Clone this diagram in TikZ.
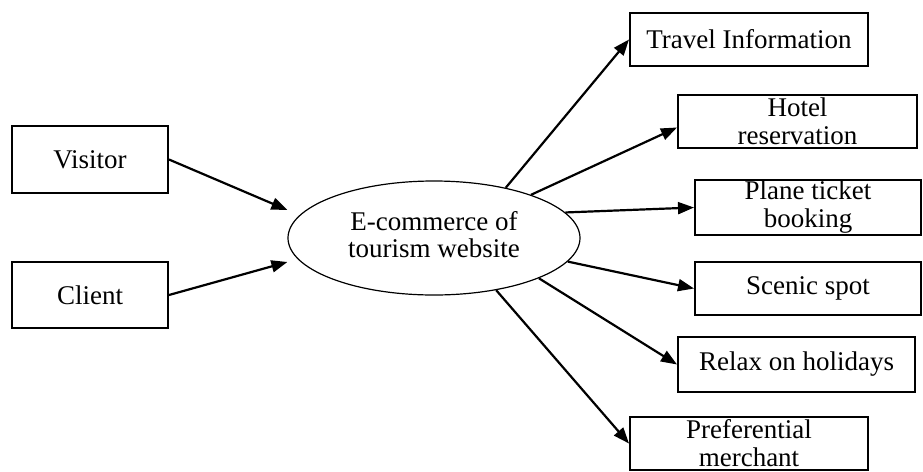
\documentclass[tikz,border=0pt]{standalone}
\usepackage{fontspec}
\setmainfont{Liberation Serif}
\usetikzlibrary{arrows.meta,shapes.geometric,calc}
\tikzset{
  box/.style={draw=black, line width=1pt, inner sep=0pt, align=center, font=\fontsize{13.5}{14}\selectfont},
  hub/.style={ellipse, draw=black, line width=0.6pt, inner sep=0pt, align=center, font=\fontsize{13.5}{13.5}\selectfont, minimum width=146pt, minimum height=57pt},
  flow/.style={draw=black, line width=1.1pt, -{Triangle[length=8pt,width=6pt]}},
}
\begin{document}
\begin{tikzpicture}[x=0.5pt, y=-0.5pt]
  \useasboundingbox[fill=white] (0,0) rectangle (923,472);

  \node[box, minimum width=78pt, minimum height=33.5pt] (visitor) at (90,159.5) {Visitor};
  \node[box, minimum width=78pt, minimum height=33pt] (client) at (90,295) {Client};

  \node[hub] (eco) at (434,238) {};
  \node[font=\fontsize{13.5}{13.5}\selectfont, align=center, inner sep=0pt] (ecotext) at (434,235) {E-commerce of\\tourism website};

  \node[box, minimum width=119pt, minimum height=26.5pt] (travel) at (749,39.5) {Travel Information};
  \node[box, minimum width=119.5pt, minimum height=26.5pt] (hotel) at (797.5,121.5) {Hotel\\reservation};
  \node[box, minimum width=113pt, minimum height=27.5pt] (plane) at (808,207.5) {Plane ticket\\booking};
  \node[box, minimum width=113pt, minimum height=26.5pt] (scenic) at (808,288.5) {Scenic spot};
  \node[box, minimum width=118.5pt, minimum height=27.5pt] (relax) at (796.5,364.5) {Relax on holidays};
  \node[box, minimum width=119pt, minimum height=26.5pt] (pref) at (749,443.5) {Preferential\\merchant};

  % the two inbound arrows meet the hub left of its rim
  \coordinate (vtip) at ($(eco.west)+(0,-28)$);
  \coordinate (ctip) at ($(eco.west)+(0,24)$);
  \draw[flow] (visitor.east) -- (vtip);
  \draw[flow] (client.east) -- (ctip);

  \draw[flow] (eco.35) -- (travel.west);
  \draw[flow] (eco.24) -- ($(hotel.west)+(0,6)$);
  \draw[flow] (eco.11) -- (plane.west);
  \draw[flow] (eco.-10) -- (scenic.west);
  \draw[flow] (eco.-21) -- (relax.west);
  \draw[flow] (eco.-40) -- (pref.west);
\end{tikzpicture}
\end{document}
